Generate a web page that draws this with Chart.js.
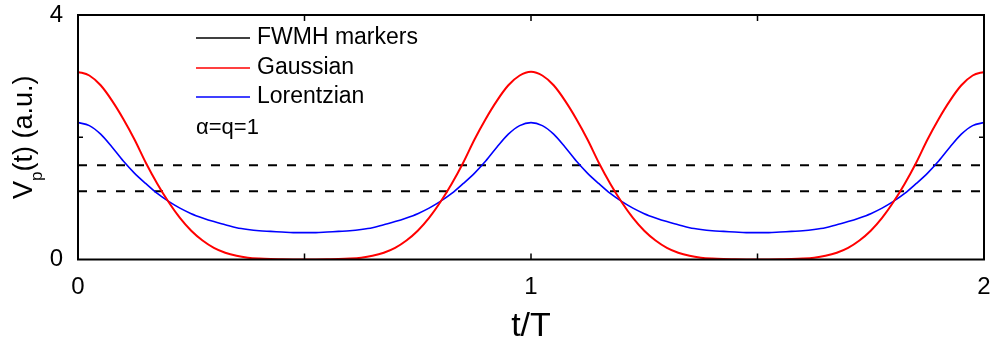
<!DOCTYPE html>
<html>
<head>
<meta charset="utf-8">
<script src="https://cdn.jsdelivr.net/npm/chart.js@4.4.1/dist/chart.umd.min.js"></script>
<style>
  html, body { margin: 0; padding: 0; background: #fff; }
  #wrap { width: 993px; height: 349px; }
</style>
</head>
<body>
<div id="wrap"><canvas id="chart-pulse"></canvas></div>
<script>
'use strict';

//
// Pulse shapes
//

var tValues = [
  0, 0.025, 0.05, 0.075, 0.1, 0.125, 0.15, 0.175, 0.2, 0.225, 0.25, 0.275, 0.3, 0.325, 0.35, 0.375, 0.4, 0.425, 0.45, 0.475, 0.5,
  0.525, 0.55, 0.575, 0.6, 0.625, 0.65, 0.675, 0.7, 0.725, 0.75, 0.775, 0.8, 0.825, 0.85, 0.875, 0.9, 0.925, 0.95, 0.975, 1,
  1.025, 1.05, 1.075, 1.1, 1.125, 1.15, 1.175, 1.2, 1.225, 1.25, 1.275, 1.3, 1.325, 1.35, 1.375, 1.4, 1.425, 1.45, 1.475, 1.5,
  1.525, 1.55, 1.575, 1.6, 1.625, 1.65, 1.675, 1.7, 1.725, 1.75, 1.775, 1.8, 1.825, 1.85, 1.875, 1.9, 1.925, 1.95, 1.975, 2
];

var gaussian = [
  3.07, 3.01, 2.85, 2.60, 2.30, 1.96, 1.58, 1.24, 0.94, 0.68, 0.47, 0.31, 0.19, 0.11, 0.06, 0.03, 0.015, 0.007, 0.003, 0.001, 0,
  0.001, 0.003, 0.007, 0.015, 0.03, 0.06, 0.11, 0.19, 0.31, 0.47, 0.68, 0.94, 1.24, 1.58, 1.96, 2.30, 2.60, 2.85, 3.01, 3.07,
  3.01, 2.85, 2.60, 2.30, 1.96, 1.58, 1.24, 0.94, 0.68, 0.47, 0.31, 0.19, 0.11, 0.06, 0.03, 0.015, 0.007, 0.003, 0.001, 0,
  0.001, 0.003, 0.007, 0.015, 0.03, 0.06, 0.11, 0.19, 0.31, 0.47, 0.68, 0.94, 1.24, 1.58, 1.96, 2.30, 2.60, 2.85, 3.01, 3.07
];

var lorentzian = [
  2.24, 2.19, 2.05, 1.84, 1.61, 1.41, 1.24, 1.08, 0.95, 0.84, 0.75, 0.68, 0.62, 0.57, 0.52, 0.49, 0.47, 0.46, 0.45, 0.44, 0.44,
  0.44, 0.45, 0.46, 0.47, 0.49, 0.52, 0.57, 0.62, 0.68, 0.75, 0.84, 0.95, 1.08, 1.24, 1.41, 1.61, 1.84, 2.05, 2.19, 2.24,
  2.19, 2.05, 1.84, 1.61, 1.41, 1.24, 1.08, 0.95, 0.84, 0.75, 0.68, 0.62, 0.57, 0.52, 0.49, 0.47, 0.46, 0.45, 0.44, 0.44,
  0.44, 0.45, 0.46, 0.47, 0.49, 0.52, 0.57, 0.62, 0.68, 0.75, 0.84, 0.95, 1.08, 1.24, 1.41, 1.61, 1.84, 2.05, 2.19, 2.24
];

// half-maximum levels (Gaussian, Lorentzian)
var fwhmLevels = [1.54, 1.115];
var fwhmSpan = [0, 2];

var xTickMarks = [0.5, 1, 1.5];
var yTickMarks = [2];

var FONT = "'Liberation Sans', Arial, sans-serif";

function points(ys) {
  return ys.map(function(y, i) { return { x: tValues[i], y: y }; });
}

function levelLine(level) {
  return fwhmSpan.map(function(x) { return { x: x, y: level }; });
}

// frame, inward ticks, legend, note, axis titles
var decorations = {
  id: 'decorations',
  afterDatasetsDraw: function(chart) {
    var ctx = chart.ctx;
    var a = chart.chartArea;
    var xs = chart.scales.x;
    var ys = chart.scales.y;

    ctx.save();
    ctx.strokeStyle = '#000';
    ctx.lineWidth = 2;
    ctx.strokeRect(a.left, a.top, a.right - a.left, a.bottom - a.top);

    ctx.lineWidth = 1.5;
    ctx.beginPath();
    xTickMarks.forEach(function(v) {
      var px = xs.getPixelForValue(v);
      ctx.moveTo(px, a.bottom); ctx.lineTo(px, a.bottom - 6);
      ctx.moveTo(px, a.top); ctx.lineTo(px, a.top + 6);
    });
    yTickMarks.forEach(function(v) {
      var py = ys.getPixelForValue(v);
      ctx.moveTo(a.left, py); ctx.lineTo(a.left + 5, py);
      ctx.moveTo(a.right, py); ctx.lineTo(a.right - 5, py);
    });
    ctx.stroke();

    // legend
    var entries = chart.data.datasets.filter(function(d) { return d.legendRow !== undefined; })
      .sort(function(p, q) { return p.legendRow - q.legendRow; });
    var rowY = [38, 68, 97];
    ctx.font = '23px ' + FONT;
    ctx.fillStyle = '#000';
    ctx.textBaseline = 'middle';
    ctx.textAlign = 'left';
    entries.forEach(function(d, i) {
      ctx.strokeStyle = d.borderColor;
      ctx.lineWidth = 1.6;
      ctx.beginPath();
      ctx.moveTo(196, rowY[i]);
      ctx.lineTo(250, rowY[i]);
      ctx.stroke();
      ctx.fillText(d.label, 257, rowY[i]);
    });

    ctx.font = '22px ' + FONT;
    ctx.fillText('\u03b1=q=1', 196, 128);

    // x title
    ctx.font = '34px ' + FONT;
    ctx.textAlign = 'center';
    ctx.fillText('t/T', (a.left + a.right) / 2, 327);

    // y title with subscript
    ctx.translate(32, 199);
    ctx.rotate(-Math.PI / 2);
    ctx.textAlign = 'left';
    ctx.textBaseline = 'alphabetic';
    ctx.font = '27px ' + FONT;
    ctx.fillText('V', 0, 0);
    var x = ctx.measureText('V').width;
    ctx.font = '17px ' + FONT;
    ctx.fillText('p', x, 10);
    x += ctx.measureText('p').width;
    ctx.font = '27px ' + FONT;
    ctx.fillText('(t) (a.u.)', x, 0);

    ctx.restore();
  }
};

var Chart1 = (function() {

  var ctx = document.getElementById('chart-pulse').getContext('2d');

  var chart1 = new Chart(ctx, {
    type: 'line',
    data: {
      datasets: [{
        label: 'Gaussian',
        legendRow: 1,
        data: points(gaussian),
        borderColor: '#ff0000',
        borderWidth: 2
      }, {
        label: 'Lorentzian',
        legendRow: 2,
        data: points(lorentzian),
        borderColor: '#0000ff',
        borderWidth: 1.6
      }, {
        label: 'FWMH markers',
        legendRow: 0,
        data: levelLine(fwhmLevels[0]),
        borderColor: '#000000',
        borderWidth: 2,
        borderDash: [9, 10]
      }, {
        label: '',
        data: levelLine(fwhmLevels[1]),
        borderColor: '#000000',
        borderWidth: 2,
        borderDash: [9, 10]
      }]
    },
    options: {
      responsive: true,
      maintainAspectRatio: false,
      animation: false,
      elements: {
        point: { radius: 0 },
        line: { cubicInterpolationMode: 'monotone', fill: false }
      },
      layout: { padding: { top: 15, right: 9, left: 0, bottom: 0 } },
      plugins: {
        legend: { display: false },
        tooltip: { enabled: false }
      },
      scales: {
        x: {
          type: 'linear',
          min: 0,
          max: 2,
          grid: { display: false },
          border: { display: false },
          ticks: {
            stepSize: 1,
            color: '#000',
            padding: 5,
            maxRotation: 0,
            font: { family: FONT, size: 24 }
          },
          afterFit: function(scale) {
            scale.height = 89.5;
            scale.paddingLeft = 0;
            scale.paddingRight = 0;
          }
        },
        y: {
          min: 0,
          max: 4,
          grid: { display: false },
          border: { display: false },
          ticks: {
            stepSize: 4,
            color: '#000',
            padding: 7,
            font: { family: FONT, size: 24 }
          },
          afterFit: function(scale) {
            scale.width = 78;
            scale.paddingTop = 0;
            scale.paddingBottom = 0;
          }
        }
      }
    },
    plugins: [decorations]
  });

  return chart1;

})();
</script>
</body>
</html>
